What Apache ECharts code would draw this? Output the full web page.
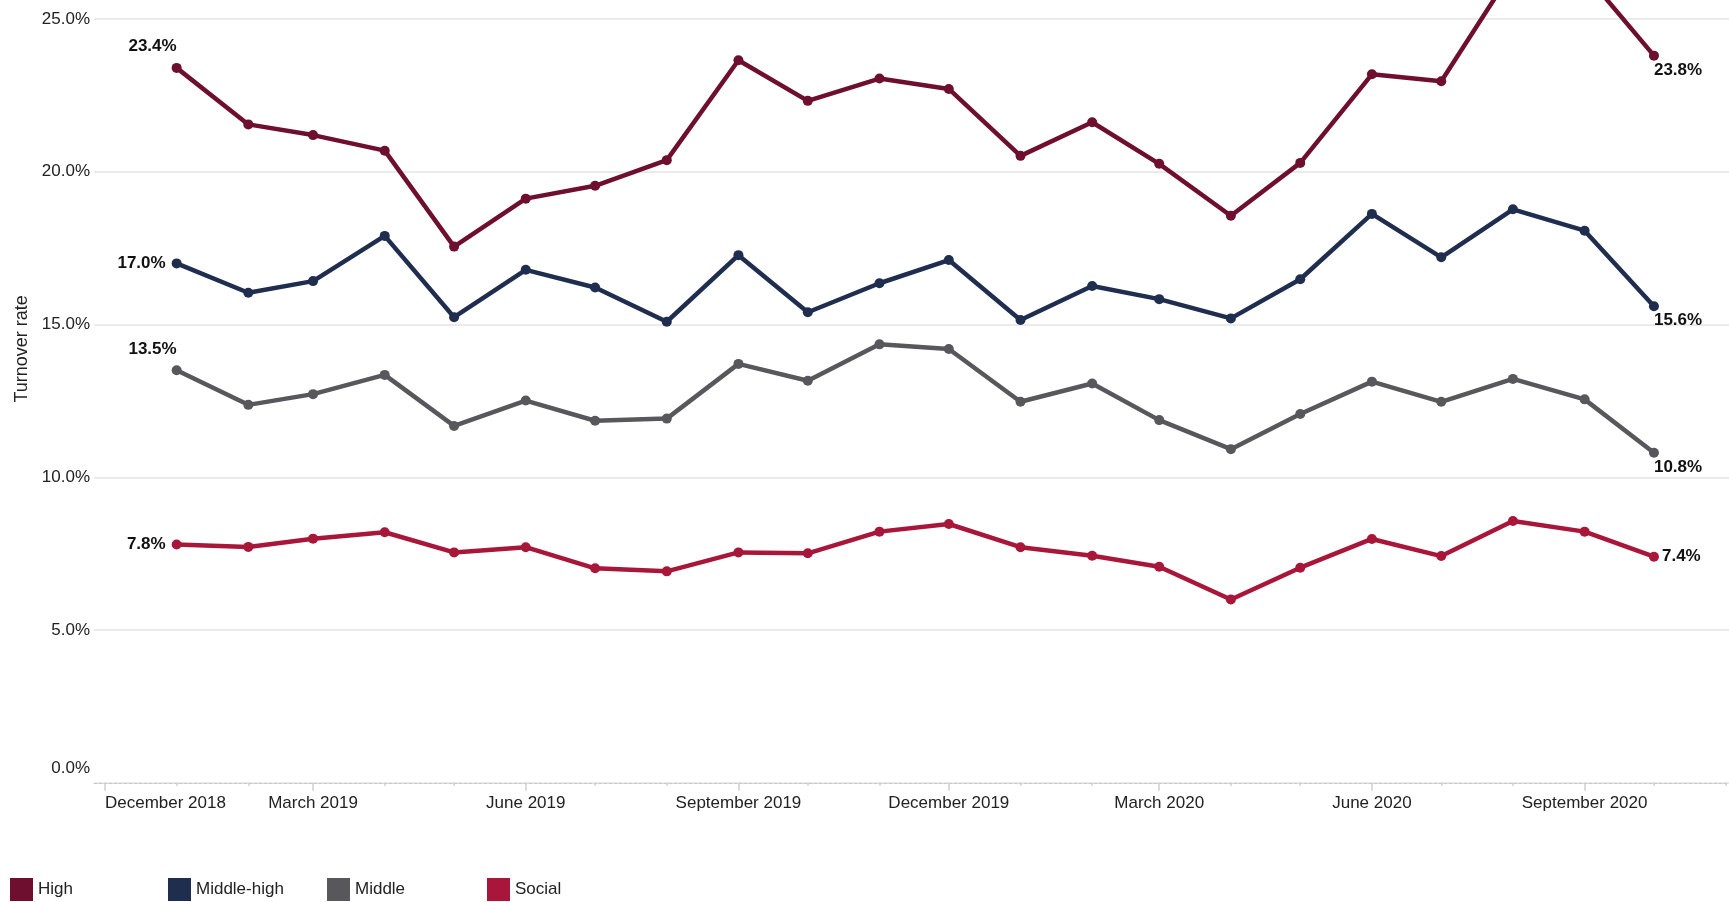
<!DOCTYPE html>
<html>
<head>
<meta charset="utf-8">
<title>Turnover rate</title>
<script src="https://cdn.jsdelivr.net/npm/echarts@6/dist/echarts.min.js"></script>
<style>
  html, body { margin: 0; padding: 0; background: #fff; }
  #chart { width: 1729px; height: 902px; }
</style>
</head>
<body>
<div id="chart"></div>
<script>
// monthly points, January 2019 - October 2020
const months = [
  "2019-01", "2019-02", "2019-03", "2019-04", "2019-05", "2019-06",
  "2019-07", "2019-08", "2019-09", "2019-10", "2019-11", "2019-12",
  "2020-01", "2020-02", "2020-03", "2020-04", "2020-05", "2020-06",
  "2020-07", "2020-08", "2020-09", "2020-10",
];

const high = [23.4, 21.55, 21.2, 20.69, 17.55, 19.12, 19.54, 20.38, 23.65, 22.32, 23.05,
  22.71, 20.52, 21.62, 20.26, 18.56, 20.29, 23.19, 22.96, 26.6, 26.5, 23.8];
const middleHigh = [17.0, 16.04, 16.42, 17.9, 15.24, 16.79, 16.21, 15.09, 17.27, 15.4, 16.35,
  17.11, 15.15, 16.26, 15.83, 15.2, 16.48, 18.62, 17.2, 18.77, 18.07, 15.6];
const middle = [13.5, 12.37, 12.72, 13.35, 11.68, 12.51, 11.85, 11.92, 13.71, 13.16, 14.35,
  14.2, 12.47, 13.07, 11.87, 10.92, 12.07, 13.13, 12.47, 13.22, 12.55, 10.8];
const social = [7.8, 7.72, 7.99, 8.2, 7.54, 7.71, 7.02, 6.92, 7.54, 7.51, 8.22,
  8.47, 7.71, 7.43, 7.07, 6.0, 7.04, 7.98, 7.42, 8.57, 8.22, 7.4];

const seriesNames = ["High", "Middle-high", "Middle", "Social"];

// axis ticks: labelled quarter months, short ticks every month
const labelMonths = ["2018-12", "2019-03", "2019-06", "2019-09", "2019-12", "2020-03", "2020-06", "2020-09"];
const tickMonths = [
  "2018-12", "2019-01", "2019-02", "2019-03", "2019-04", "2019-05", "2019-06",
  "2019-07", "2019-08", "2019-09", "2019-10", "2019-11", "2019-12", "2020-01",
  "2020-02", "2020-03", "2020-04", "2020-05", "2020-06", "2020-07", "2020-08",
  "2020-09", "2020-10", "2020-11",
];
const monthNames = ["January", "February", "March", "April", "May", "June", "July",
  "August", "September", "October", "November", "December"];

const yTicks = [0, 5, 10, 15, 20, 25];

const toTime = (ym) => {
  const [y, m] = ym.split("-").map(Number);
  return new Date(y, m - 1, 1).getTime();
};

const xMin = new Date(2018, 10, 26, 6).getTime();
const xMax = new Date(2020, 10, 2, 11).getTime();

const FONT = "'Liberation Sans', Arial, sans-serif";
const colors = ["#6e0f30", "#1f2d4f", "#58585c", "#a8173a"];

// where the first / last value labels sit for each line
const startLabels = [
  { position: "top", align: "right", distance: 8 },
  { position: "left", distance: 6 },
  { position: "top", align: "right", distance: 8 },
  { position: "left", distance: 6 },
];
const endLabels = [
  { position: "bottom", align: "left", distance: 1 },
  { position: "bottom", align: "left", distance: 1 },
  { position: "bottom", align: "left", distance: 1 },
  { position: "right", distance: 3 },
];

const valueLabel = {
  show: true,
  fontFamily: FONT,
  fontSize: 17,
  fontWeight: "bold",
  color: "#111",
  formatter: (p) => p.value[1].toFixed(1) + "%",
};

const buildSeries = (name, values, i) => ({
  name: name,
  type: "line",
  clip: false,
  symbol: "circle",
  symbolSize: 10,
  showSymbol: true,
  color: colors[i],
  lineStyle: { width: 4.5, color: colors[i] },
  itemStyle: { color: colors[i] },
  data: values.map((v, j) => {
    const item = { value: [toTime(months[j]), v] };
    if (j === 0) item.label = { ...valueLabel, ...startLabels[i] };
    if (j === values.length - 1) item.label = { ...valueLabel, ...endLabels[i] };
    return item;
  }),
});

// one legend per entry so the entries sit on a fixed pitch
const legendLeft = [10, 168, 327, 487];
const legends = seriesNames.map((name, i) => ({
  left: legendLeft[i],
  top: 878,
  icon: "rect",
  itemWidth: 23,
  itemHeight: 23,
  padding: 0,
  data: [name],
  textStyle: { fontFamily: FONT, fontSize: 17, color: "#222" },
}));

const chart = echarts.init(document.getElementById("chart"));

chart.setOption({
  animation: false,
  backgroundColor: "#fff",
  textStyle: { fontFamily: FONT },
  grid: {
    left: 94,
    right: 0,
    top: 19,
    bottom: 119.25,
    containLabel: false,
    outerBoundsMode: "none",
  },
  legend: legends,
  xAxis: [
    {
      type: "value",
      position: "bottom",
      min: xMin,
      max: xMax,
      axisLine: { show: true, lineStyle: { color: "#c8c8c8", width: 1, type: [3, 2] } },
      axisTick: {
        show: true,
        length: 8,
        lineStyle: { color: "#d0d0d0", width: 1.5 },
        customValues: labelMonths.map(toTime),
      },
      axisLabel: {
        customValues: labelMonths.map(toTime),
        fontFamily: FONT,
        fontSize: 17,
        color: "#222",
        margin: 12,
        alignMinLabel: "left",
        formatter: (v) => {
          const d = new Date(v);
          return monthNames[d.getMonth()] + " " + d.getFullYear();
        },
      },
      splitLine: { show: false },
    },
    {
      type: "value",
      position: "bottom",
      min: xMin,
      max: xMax,
      axisLine: { show: false },
      axisTick: {
        show: true,
        length: 3,
        lineStyle: { color: "#d0d0d0", width: 1.5 },
        customValues: tickMonths.map(toTime),
      },
      axisLabel: { show: false },
      splitLine: { show: false },
    },
  ],
  yAxis: {
    type: "value",
    min: yTicks[0],
    max: yTicks[yTicks.length - 1],
    interval: 5,
    name: "Turnover rate",
    nameLocation: "middle",
    nameGap: 60,
    nameTextStyle: { fontFamily: FONT, fontSize: 18, color: "#222", padding: [0, 0, 0, 104] },
    axisLine: { show: false },
    axisTick: { show: false },
    splitLine: { show: true, lineStyle: { color: "#e4e4e4", width: 1.5 } },
    axisLabel: {
      fontFamily: FONT,
      fontSize: 17,
      color: "#222",
      margin: 4,
      formatter: (v) => (v === 0 ? "{z|0.0%}" : v.toFixed(1) + "%"),
      rich: {
        z: { fontFamily: FONT, fontSize: 17, color: "#222", padding: [0, 0, 28, 0] },
      },
    },
  },
  series: [
    buildSeries(seriesNames[0], high, 0),
    buildSeries(seriesNames[1], middleHigh, 1),
    buildSeries(seriesNames[2], middle, 2),
    buildSeries(seriesNames[3], social, 3),
  ],
});
</script>
</body>
</html>
